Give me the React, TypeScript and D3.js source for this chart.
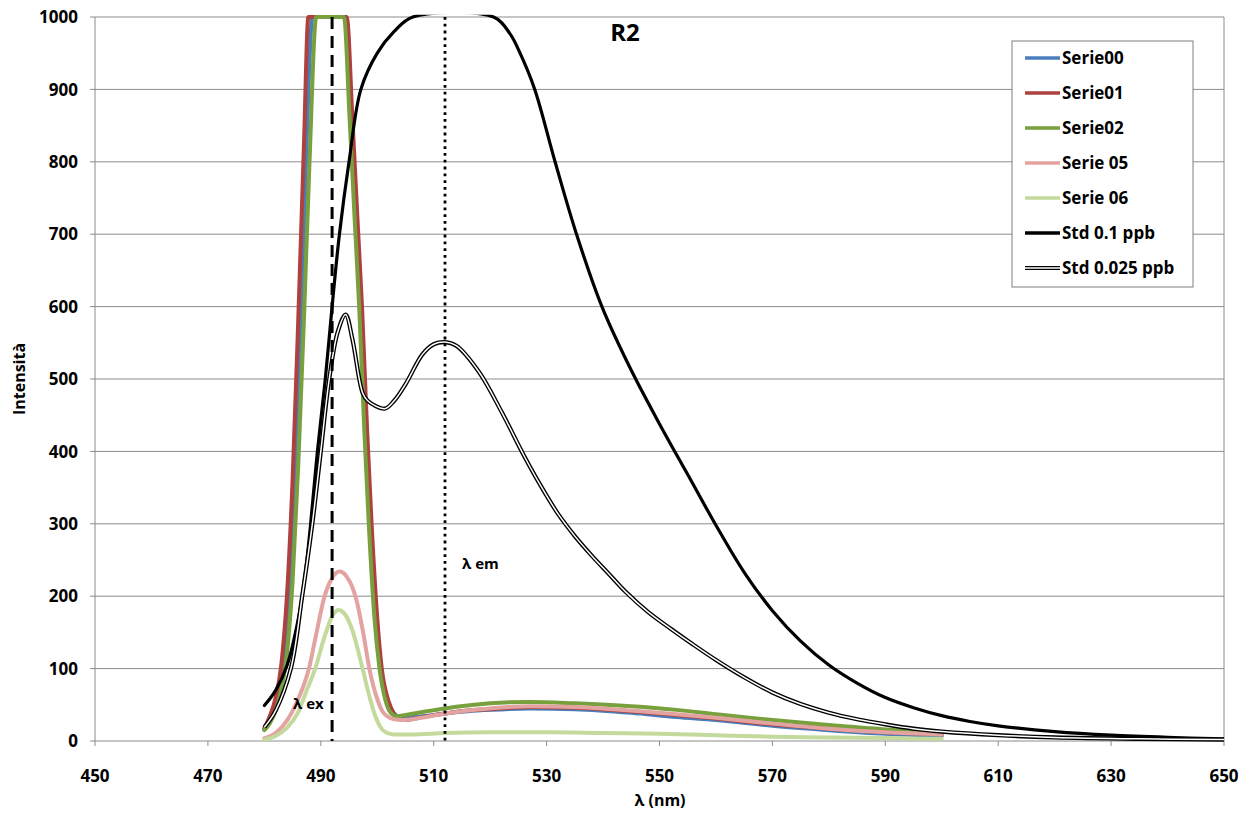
import React from "react";
import * as d3 from "d3";

const W = 1259;
const H = 814;

// Axis ticks
const xTicks = [450, 470, 490, 510, 530, 550, 570, 590, 610, 630, 650];
const yTicks = [0, 100, 200, 300, 400, 500, 600, 700, 800, 900, 1000];

// Series data: [wavelength nm, intensity]
const serie00: [number, number][] = [
  [480, 16], [481, 30], [482, 50], [483, 85], [484, 160], [485, 290], [486, 480], [487, 700], [487.8, 900], [488.5, 1000],
  [494.3, 1000], [495.3, 860], [496.3, 720], [497.1, 600], [498, 430], [498.8, 300], [499.8, 170], [500.6, 100],
  [501.8, 55], [503, 38], [504, 33], [506, 33], [509, 35], [512, 38], [516, 41], [520, 43], [527, 45], [535, 44],
  [545, 39], [553, 33], [560, 29], [570, 21], [580, 15], [590, 10], [600, 7],
];
const serie01: [number, number][] = [
  [480, 18], [481, 35], [482, 60], [483, 105], [484, 200], [485, 360], [486, 580], [487, 820], [487.8, 1000],
  [494.6, 1000], [495.6, 860], [496.5, 720], [497.3, 600], [498.2, 430], [499, 300], [500, 170], [500.8, 100],
  [502, 55], [503, 37], [504, 30], [505, 29], [508, 33], [512, 38], [516, 42], [520, 44], [527, 47], [535, 46],
  [545, 41], [553, 36], [560, 31], [570, 23], [580, 17], [590, 12], [600, 9],
];
const serie02: [number, number][] = [
  [480, 15], [481, 25], [482, 42], [483, 70], [484, 120], [485, 220], [486, 380], [487, 580], [488, 800], [489.2, 1000],
  [494.1, 1000], [495.1, 860], [496, 720], [496.8, 600], [497.7, 430], [498.5, 300], [499.5, 170], [500.4, 100],
  [501.5, 55], [502.5, 38], [503.5, 34], [505, 36], [508, 40], [512, 45], [516, 49], [520, 52], [527, 54], [535, 52],
  [545, 48], [553, 43], [560, 37], [570, 29], [580, 22], [590, 16], [600, 12],
];
const serie05: [number, number][] = [
  [480, 4], [482, 11], [484, 28], [486, 58], [487.9, 100], [489.2, 148], [490.6, 198], [492, 225], [493.3, 234],
  [494.5, 228], [495.5, 214], [496.2, 198], [497.5, 150], [498.6, 100], [500, 58], [501, 40], [502, 33], [503, 30],
  [504.5, 29], [507, 31], [512, 38], [520, 45], [527, 48], [535, 47], [545, 42], [553, 37], [560, 32], [570, 24],
  [580, 17], [590, 12], [600, 9],
];
const serie06: [number, number][] = [
  [480, 2], [482, 7], [484, 18], [486, 40], [487.5, 70], [489.1, 102], [490.5, 140], [492, 172], [493.1, 181],
  [494.2, 176], [495.5, 155], [497.4, 100], [498.5, 65], [499.5, 38], [500.5, 20], [501.5, 12], [503, 9], [506, 9],
  [512, 11], [520, 12], [530, 12], [540, 11], [550, 10], [560, 8], [570, 6], [580, 5], [590, 4], [600, 3],
];
const std01: [number, number][] = [
  [480, 49], [482, 70], [484, 104], [486, 168], [487.2, 228], [488.2, 300], [489.4, 400], [490.8, 500], [492, 600],
  [493.3, 700], [495, 800], [497.1, 900], [500, 950], [503, 980], [506.3, 1000], [520.6, 1000], [523.5, 977],
  [525.3, 950], [527.9, 900], [531.5, 800], [535.3, 700], [539.8, 600], [545, 512], [550, 438], [555, 368],
  [560, 298], [565, 233], [570, 180], [575, 138], [580, 105], [585, 80], [590, 60], [595, 46], [600, 35],
  [605, 27], [610, 21], [620, 13], [630, 8], [640, 5], [650, 3],
];
const std0025: [number, number][] = [
  [480, 19], [482, 42], [484.7, 100], [486.7, 200], [488.5, 300], [490, 400], [491.5, 500], [493, 565],
  [494.4, 589], [495.6, 555], [497.4, 481], [498.3, 470], [501.3, 459], [503, 470], [505.1, 494], [508, 534],
  [510, 548], [512, 551], [514, 546], [518, 510], [522, 455], [526, 394], [529, 352], [532, 314], [535, 283],
  [538, 256], [541, 231], [544, 206], [548, 178], [552, 155], [556, 133], [560, 112], [565, 88], [570, 67],
  [575, 51], [580, 39], [585, 30], [590, 23], [595, 17], [600, 13], [610, 8], [620, 5], [635, 3], [650, 2],
];

const seriesNames = ["Serie00", "Serie01", "Serie02", "Serie 05", "Serie 06", "Std 0.1 ppb", "Std 0.025 ppb"];
const seriesColors = ["#4A7EBB", "#AE403D", "#78A03D", "#E3A3A1", "#C4D99C", "#000000", "#000000"];
const seriesData = [serie00, serie01, serie02, serie05, serie06, std01, std0025];

const exLambda = 492;
const emLambda = 512;

const FONT = "'Open Sans', 'Liberation Sans', sans-serif";

export default function App() {
  const left = 95, right = 1224, top = 17, bottom = 741;
  const x = d3.scaleLinear().domain([450, 650]).range([left, right]);
  const y = d3.scaleLinear().domain([0, 1000]).range([bottom, top]);
  const lineMono = d3
    .line<[number, number]>()
    .x((d) => x(d[0]))
    .y((d) => y(d[1]))
    .curve(d3.curveMonotoneX);
  const lineSmooth = d3
    .line<[number, number]>()
    .x((d) => x(d[0]))
    .y((d) => y(d[1]))
    .curve(d3.curveCatmullRom.alpha(0.5));

  const grid = "#8c8c8c";
  const legX = 1012, legY = 41, legW = 181, legH = 246;

  return (
    <svg
      width={W}
      height={H}
      style={{ position: "absolute", left: 0, top: 0, background: "#fff" }}
      fontFamily={FONT}
    >
      <defs>
        <clipPath id="plotClip">
          <rect x={left} y={top - 2.2} width={right - left} height={bottom - top + 4} />
        </clipPath>
      </defs>
      <rect x={0} y={0} width={W} height={H} fill="#fff" />
      {yTicks.map((t) => (
        <line key={"g" + t} x1={left} x2={right} y1={y(t)} y2={y(t)} stroke={grid} strokeWidth={1} />
      ))}
      <line x1={left} x2={left} y1={top} y2={bottom} stroke={grid} strokeWidth={1} />
      <line x1={right} x2={right} y1={top} y2={bottom} stroke={grid} strokeWidth={1} />
      {yTicks.map((t) => (
        <g key={"yt" + t}>
          <line x1={left - 5} x2={left} y1={y(t)} y2={y(t)} stroke={grid} />
          <text x={78} y={y(t)} dy="0.36em" textAnchor="end" fontSize={17} fontWeight={700} fill="#000">
            {t}
          </text>
        </g>
      ))}
      {xTicks.map((t) => (
        <g key={"xt" + t}>
          <line x1={x(t)} x2={x(t)} y1={bottom} y2={bottom + 5} stroke={grid} />
          <text x={x(t)} y={782} textAnchor="middle" fontSize={17} fontWeight={700} fill="#000">
            {t}
          </text>
        </g>
      ))}
      <g clipPath="url(#plotClip)">
        {seriesData.map((data, i) => {
          if (i === 6) {
            const d = lineSmooth(data) || "";
            return (
              <g key={"s" + i}>
                <path d={d} fill="none" stroke="#000" strokeWidth={4.2} strokeLinejoin="round" />
                <path d={d} fill="none" stroke="#fff" strokeWidth={1.5} strokeLinejoin="round" />
              </g>
            );
          }
          const d = (i === 5 ? lineSmooth(data) : lineMono(data)) || "";
          return (
            <path
              key={"s" + i}
              d={d}
              fill="none"
              stroke={seriesColors[i]}
              strokeWidth={i === 5 ? 3.2 : 4}
              strokeLinejoin="round"
              strokeLinecap="round"
            />
          );
        })}
      </g>
      <line x1={x(exLambda)} x2={x(exLambda)} y1={top} y2={bottom} stroke="#000" strokeWidth={3} strokeDasharray="12,7" />
      <line x1={x(emLambda)} x2={x(emLambda)} y1={top} y2={bottom} stroke="#000" strokeWidth={2.8} strokeDasharray="2.8,4" />
      <text x={293} y={709} fontSize={15} fontWeight={700} fill="#000">λ ex</text>
      <text x={462} y={569} fontSize={15} fontWeight={700} fill="#000">λ em</text>
      <text x={625} y={41} textAnchor="middle" fontSize={24} fontWeight={700} fill="#000">R2</text>
      <text x={660} y={806} textAnchor="middle" fontSize={16} fontWeight={700} fill="#000">λ (nm)</text>
      <text transform={`translate(25,${(top + bottom) / 2}) rotate(-90)`} textAnchor="middle" fontSize={16} fontWeight={700} fill="#000">
        Intensità
      </text>
      <rect x={legX} y={legY} width={legW} height={legH} fill="#fff" stroke="#7f7f7f" strokeWidth={1} />
      {seriesNames.map((n, i) => {
        const ly = 58 + i * 35;
        return (
          <g key={"l" + i}>
            {i === 6 ? (
              <>
                <line x1={1025} x2={1060} y1={ly} y2={ly} stroke="#000" strokeWidth={4} />
                <line x1={1025} x2={1060} y1={ly} y2={ly} stroke="#fff" strokeWidth={1.4} />
              </>
            ) : (
              <line x1={1025} x2={1060} y1={ly} y2={ly} stroke={seriesColors[i]} strokeWidth={3.5} />
            )}
            <text x={1062} y={ly} dy="0.36em" fontSize={17} fontWeight={700} fill="#000">
              {n}
            </text>
          </g>
        );
      })}
    </svg>
  );
}
